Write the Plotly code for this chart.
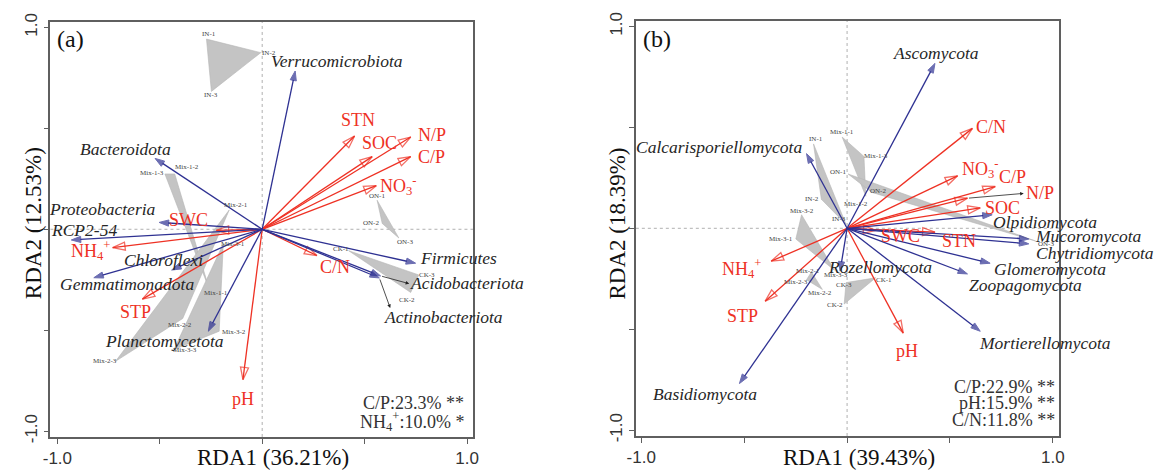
import plotly.graph_objects as go

# ---------------- panel (a): bacterial phyla ----------------
a_species = ["Verrucomicrobiota", "Bacteroidota", "Proteobacteria", "RCP2-54", "Chloroflexi",
             "Gemmatimonadota", "Planctomycetota", "Firmicutes", "Acidobacteriota", "Actinobacteriota"]
a_species_x = [0.161, -0.523, -0.503, -0.932, -0.442, -0.822, -0.263, 0.749, 0.578, 0.572]
a_species_y = [0.784, 0.351, 0.034, -0.053, -0.202, -0.240, -0.505, -0.168, -0.231, -0.241]

a_env = ["STN", "SOC", "N/P", "C/P", "NO3", "C/N", "pH", "SWC", "NH4", "STP"]
a_env_x = [0.451, 0.537, 0.725, 0.725, 0.557, 0.267, -0.094, -0.224, -0.730, -0.585]
a_env_y = [0.462, 0.360, 0.457, 0.360, 0.216, -0.130, -0.745, -0.005, -0.091, -0.346]

# ---------------- panel (b): fungal phyla ----------------
b_species = ["Ascomycota", "Calcarisporiellomycota", "Rozellomycota", "Basidiomycota", "Olpidiomycota",
             "Mucoromycota", "Chytridiomycota", "Glomeromycota", "Zoopagomycota", "Mortierellomycota"]
b_species_x = [0.427, -0.197, -0.034, -0.523, 0.705, 0.883, 0.883, 0.695, 0.585, 0.647]
b_species_y = [0.817, 0.370, -0.212, -0.769, 0.067, -0.053, -0.077, -0.173, -0.226, -0.510]

b_env = ["C/N", "NO3", "C/P", "N/P", "SOC", "SWC", "STN", "NH4", "STP", "pH"]
b_env_x = [0.609, 0.537, 0.720, 0.585, 0.647, 0.139, 0.427, -0.369, -0.398, 0.273]
b_env_y = [0.495, 0.260, 0.207, 0.149, 0.101, -0.010, -0.019, -0.163, -0.361, -0.519]

# ---------------- sample (site) scores ----------------
samples = ["IN-1", "IN-2", "IN-3", "Mix-1-1", "Mix-1-2", "Mix-1-3", "Mix-2-1", "Mix-2-2", "Mix-2-3",
           "Mix-3-1", "Mix-3-2", "Mix-3-3", "ON-1", "ON-2", "ON-3", "CK-1", "CK-2", "CK-3"]
groups = ["IN", "Mix-1", "Mix-2", "Mix-3", "ON", "CK"]
a_site_x = [-0.272, -0.007, -0.248, -0.258, -0.427, -0.475, -0.161, -0.388, -0.716,
            -0.190, -0.210, -0.431, 0.561, 0.586, 0.667, 0.422, 0.725, 0.764]
a_site_y = [0.942, 0.875, 0.683, -0.298, 0.274, 0.274, 0.096, -0.442, -0.654,
            -0.072, -0.505, -0.596, 0.144, 0.029, -0.043, -0.106, -0.313, -0.226]
b_site_x = [-0.163, -0.125, -0.005, -0.024, 0.091, 0.082, -0.173, -0.120, -0.197,
            -0.249, -0.221, -0.062, 0.005, 0.120, 0.916, 0.139, -0.014, -0.005]
b_site_y = [0.418, 0.144, 0.019, 0.452, 0.159, 0.356, -0.216, -0.303, -0.255,
            -0.053, 0.067, -0.207, 0.269, 0.178, -0.063, -0.245, -0.375, -0.269]

a_stats = ["C/P:23.3% **", "NH<sub>4</sub><sup>+</sup>:10.0% *"]
b_stats = ["C/P:22.9% **", "pH:15.9% **", "C/N:11.8% **"]
a_titles = ("RDA1 (36.21%)", "RDA2 (12.53%)")
b_titles = ("RDA1 (39.43%)", "RDA2 (18.39%)")
tick_vals = [-1.0, -0.5, 0.0, 0.5, 1.0]
tick_text = ["-1.0", "", "", "", "1.0"]

ENV_TEXT = {"NO3": "NO<sub>3</sub><sup>-</sup>", "NH4": "NH<sub>4</sub><sup>+</sup>"}

# ---------------- placement and style ----------------
FIG_W, FIG_H = 1166, 475
SERIF = "Liberation Serif, Times New Roman, serif"
SANS = "Liberation Sans, Arial, sans-serif"
BLUE = "#2E3192"
RED = "#EE3124"
INK = "#262626"
FRAME = "#5f5f5f"
HULL = "#c4c4c4"

PANELS = {
    "a": dict(box=(42, 14, 470, 442), xr=(-1.0337, 1.0289), yr=(-1.0288, 1.0288), xa="x", ya="y"),
    "b": dict(box=(635, 13, 1064, 441), xr=(-1.0264, 1.0312), yr=(-1.0288, 1.0288), xa="x2", ya="y2"),
}

# label offsets from arrow tips, in pixels (right, down)
a_species_off = {"Verrucomicrobiota": (42, -10), "Bacteroidota": (-30, -9), "Proteobacteria": (-57, -13),
                 "RCP2-54": (13, -10), "Chloroflexi": (-8, -10), "Gemmatimonadota": (33, 6),
                 "Planctomycetota": (-44, 10), "Firmicutes": (43, -5),
                 "Acidobacteriota": (86, 7), "Actinobacteriota": (64, 39)}
a_leaders = {"Acidobacteriota": (29, 8), "Actinobacteriota": (11, 31)}
a_env_off = {"STN": (3, -16), "SOC": (7, -14), "N/P": (21, -2), "C/P": (21, 0), "NO3": (22, 0),
             "C/N": (18, 11), "pH": (0, 19), "SWC": (-28, -10), "NH4": (-22, 3), "STP": (-7, 13)}
b_species_off = {"Ascomycota": (1, -10), "Calcarisporiellomycota": (-88, -7), "Rozellomycota": (40, -4),
                 "Basidiomycota": (-34, 10), "Olpidiomycota": (53, 7), "Mucoromycota": (60, -3),
                 "Chytridiomycota": (66, 9), "Glomeromycota": (60, 6), "Zoopagomycota": (58, 11),
                 "Mortierellomycota": (65, 12)}
b_env_off = {"C/N": (19, -1), "NO3": (23, -7), "C/P": (17, -10), "N/P": (73, -5), "SOC": (22, 0),
             "SWC": (25, 6), "STN": (24, 9), "NH4": (-30, 7), "STP": (-23, 15), "pH": (4, 18)}
b_leaders = {"N/P": (57, -5)}
a_site_off = [(3, -5), (8, 0), (0, 4), (7, 4), (12, -7), (-13, -1), (7, -5), (-3, 6), (-11, 0),
              (10, 0), (15, 1), (11, 0), (0, -4), (-11, 0), (6, 4), (-8, -2), (-4, 8), (8, 0)]
b_site_off = [(2, -5), (-9, 0), (-7, -5), (0, -5), (-10, 8), (12, 0), (-3, -1), (-2, 4), (-11, 2),
              (-15, 0), (0, -4), (2, 5), (-10, -2), (6, -1), (10, 3), (8, 2), (-9, 1), (-2, 2)]


def paper(px, py):
    return px / FIG_W, 1 - py / FIG_H


fig = go.Figure()
annotations = []
shapes = []


def add_panel(key, species, sx, sy, sp_off, env, ex, ey, env_off, site_x, site_y, site_off, leaders):
    p = PANELS[key]
    xa, ya = p["xa"], p["ya"]
    ppx = (p["box"][2] - p["box"][0]) / (p["xr"][1] - p["xr"][0])
    ppy = (p["box"][3] - p["box"][1]) / (p["yr"][1] - p["yr"][0])

    # group hulls of the sample scores
    for g in groups:
        idx = [i for i, s in enumerate(samples) if s.rsplit("-", 1)[0] == g]
        fig.add_trace(go.Scatter(
            x=[site_x[i] for i in idx] + [site_x[idx[0]]],
            y=[site_y[i] for i in idx] + [site_y[idx[0]]],
            mode="lines", fill="toself", fillcolor=HULL,
            line=dict(color="#b5b5b5", width=0.6),
            xaxis=xa, yaxis=ya, hoverinfo="skip", showlegend=False))
    for i, s in enumerate(samples):
        dx, dy = site_off[i]
        annotations.append(dict(x=site_x[i], y=site_y[i], xref=xa, yref=ya, text=s,
                                showarrow=False, xshift=dx, yshift=-dy,
                                xanchor="center", yanchor="middle",
                                font=dict(family=SERIF, size=7, color="#444")))

    # environmental vectors (open heads)
    for name, x, y in zip(env, ex, ey):
        fig.add_trace(go.Scatter(
            x=[0, x], y=[0, y], mode="lines+markers",
            line=dict(color=RED, width=1.3),
            marker=dict(symbol="arrow-open", size=[0, 13], angleref="previous",
                        color=RED, line=dict(color=RED, width=1.3)),
            xaxis=xa, yaxis=ya, hoverinfo="skip", showlegend=False))
        dx, dy = env_off[name]
        annotations.append(dict(x=x, y=y, xref=xa, yref=ya, text=ENV_TEXT.get(name, name),
                                showarrow=False, xshift=dx, yshift=-dy,
                                xanchor="center", yanchor="middle",
                                font=dict(family=SERIF, size=18, color=RED)))

    # species vectors (filled heads)
    for name, x, y in zip(species, sx, sy):
        fig.add_trace(go.Scatter(
            x=[0, x], y=[0, y], mode="lines+markers",
            line=dict(color=BLUE, width=1.3),
            marker=dict(symbol="arrow", size=[0, 10], angleref="previous",
                        color=BLUE, line=dict(color=BLUE, width=1)),
            xaxis=xa, yaxis=ya, hoverinfo="skip", showlegend=False))
        dx, dy = sp_off[name]
        annotations.append(dict(x=x, y=y, xref=xa, yref=ya, text="<i>%s</i>" % name,
                                showarrow=False, xshift=dx, yshift=-dy,
                                xanchor="center", yanchor="middle",
                                font=dict(family=SERIF, size=17.5, color=INK)))

    # leader arrows from vector tips to their moved labels
    all_x = dict(zip(species + env, list(sx) + list(ex)))
    all_y = dict(zip(species + env, list(sy) + list(ey)))
    for name, (dx, dy) in leaders.items():
        x0, y0 = all_x[name], all_y[name]
        annotations.append(dict(x=x0 + dx / ppx, y=y0 - dy / ppy, ax=x0, ay=y0,
                                xref=xa, yref=ya, axref=xa, ayref=ya, text="",
                                showarrow=True, arrowhead=2, arrowsize=0.9, arrowwidth=0.8,
                                arrowcolor="#222"))

    # dashed zero lines
    shapes.append(dict(type="line", xref=xa, yref=ya + " domain", x0=0, x1=0, y0=0, y1=1,
                       line=dict(color="#9c9c9c", width=0.8, dash="3px,3px"), layer="below"))
    shapes.append(dict(type="line", xref=xa + " domain", yref=ya, x0=0, x1=1, y0=0, y1=0,
                       line=dict(color="#9c9c9c", width=0.8, dash="3px,3px"), layer="below"))


add_panel("a", a_species, a_species_x, a_species_y, a_species_off, a_env, a_env_x, a_env_y, a_env_off,
          a_site_x, a_site_y, a_site_off, a_leaders)
add_panel("b", b_species, b_species_x, b_species_y, b_species_off, b_env, b_env_x, b_env_y, b_env_off,
          b_site_x, b_site_y, b_site_off, b_leaders)


def axis_common(rng, dom, angle):
    return dict(range=list(rng), domain=list(dom), showgrid=False, zeroline=False,
                showline=True, mirror=True, linecolor=FRAME, linewidth=1.5,
                ticks="outside", ticklen=5, tickcolor=FRAME, tickwidth=1.2,
                tickvals=tick_vals, ticktext=tick_text, tickangle=angle,
                tickfont=dict(family=SANS, size=17, color="#333"), fixedrange=True)


layout_axes = {}
for key, p in PANELS.items():
    x0, y0, x1, y1 = p["box"]
    xdom = (x0 / FIG_W, x1 / FIG_W)
    ydom = (1 - y1 / FIG_H, 1 - y0 / FIG_H)
    xname = "xaxis" if p["xa"] == "x" else "xaxis2"
    yname = "yaxis" if p["ya"] == "y" else "yaxis2"
    layout_axes[xname] = axis_common(p["xr"], xdom, 0)
    layout_axes[yname] = axis_common(p["yr"], ydom, -90)
    layout_axes[xname]["anchor"] = p["ya"]
    layout_axes[yname]["anchor"] = p["xa"]

# panel letters, axis titles and significance notes
for letter, (px, py) in {"(a)": (47, 32), "(b)": (640, 32)}.items():
    x, y = paper(px, py)
    annotations.append(dict(x=x, y=y, xref="paper", yref="paper", text=letter, showarrow=False,
                            xanchor="left", yanchor="middle",
                            font=dict(family=SERIF, size=24, color="#111")))
for (xt, yt), (xpos, ypos) in [(a_titles, ((267, 463), (25, 222))), (b_titles, ((861, 463), (616, 222)))]:
    x, y = paper(*xpos)
    annotations.append(dict(x=x, y=y, xref="paper", yref="paper", text=xt, showarrow=False,
                            xanchor="center", yanchor="middle",
                            font=dict(family=SERIF, size=23, color="#111")))
    x, y = paper(*ypos)
    annotations.append(dict(x=x, y=y, xref="paper", yref="paper", text=yt, showarrow=False,
                            xanchor="center", yanchor="middle",
                            textangle=-90, font=dict(family=SERIF, size=23, color="#111")))
for lines, right, tops in [(a_stats, 463, [407, 426]), (b_stats, 1062, [390, 407, 425])]:
    for txt, py in zip(lines, tops):
        x, y = paper(right, py)
        annotations.append(dict(x=x, y=y, xref="paper", yref="paper", text=txt, showarrow=False,
                                xanchor="right", yanchor="middle",
                                font=dict(family=SERIF, size=18, color="#333")))

fig.update_layout(
    width=FIG_W, height=FIG_H, margin=dict(l=0, r=0, t=0, b=0),
    paper_bgcolor="white", plot_bgcolor="white",
    annotations=annotations, shapes=shapes, showlegend=False,
    **layout_axes,
)

fig.write_html("out.html")
